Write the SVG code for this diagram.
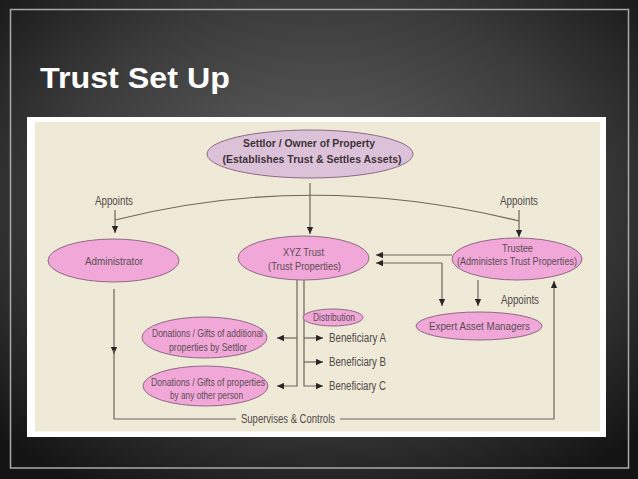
<svg xmlns="http://www.w3.org/2000/svg" width="638" height="479" viewBox="0 0 638 479">
<defs>
<radialGradient id="bg" cx="50%" cy="42%" r="70%">
<stop offset="0" stop-color="#656565"/>
<stop offset="0.6" stop-color="#3b3b3b"/>
<stop offset="1" stop-color="#141414"/>
</radialGradient>
<marker id="ah" viewBox="0 0 10 10" refX="10" refY="5" markerWidth="8" markerHeight="7" markerUnits="userSpaceOnUse" orient="auto">
<path d="M0,0.5 L10,5 L0,9.5 z" fill="#2b2623"/>
</marker>
<style>
.ln{fill:none;stroke:#6e655c;stroke-width:1.2}
.ar{marker-end:url(#ah)}
.pk{fill:#f1a7d7;stroke:#8e6a85;stroke-width:1}
.mv{fill:#dcc2d9;stroke:#8e6a85;stroke-width:1}
.nt{font-family:"Liberation Sans Narrow","Liberation Sans",Arial,sans-serif;font-size:11.5px;fill:#5a4d55;text-anchor:middle}
.bt{font-family:"Liberation Sans Narrow","Liberation Sans",Arial,sans-serif;font-size:11.5px;font-weight:bold;fill:#3e3238;text-anchor:middle}
.lb{font-family:"Liberation Sans Narrow","Liberation Sans",Arial,sans-serif;font-size:12px;fill:#4f4a47}
.bn{font-size:12.5px}
</style>
</defs>
<rect x="0" y="0" width="638" height="479" fill="url(#bg)"/>
<rect x="10.5" y="9.5" width="618" height="458.5" fill="none" stroke="#a9a9a9" stroke-width="1.5"/>
<text x="40" y="88" font-family="Liberation Sans, Arial, sans-serif" font-size="30" font-weight="bold" fill="#ffffff" textLength="190" lengthAdjust="spacingAndGlyphs">Trust Set Up</text>
<rect x="27" y="117" width="579" height="320" fill="#ffffff"/>
<rect x="35" y="122" width="565" height="309.5" fill="#efe9d8"/>

<g id="connectors">
<path class="ln" d="M115,220 Q312,170 519,221"/>
<path class="ln ar" d="M115,210 V233"/>
<path class="ln ar" d="M519,210 V237"/>
<path class="ln ar" d="M310,183 V234"/>
<path class="ln ar" d="M452,255 H376"/>
<path class="ln ar" d="M442,263 H376"/>
<path class="ln ar" d="M442,263 V306"/>
<path class="ln ar" d="M478,280 V306"/>
<path class="ln ar" d="M114,289 V354"/>
<path class="ln" d="M114,350 V419 H236"/>
<path class="ln ar" d="M340,419 H554 V281"/>
<path class="ln ar" d="M297,279 V386 H277"/>
<path class="ln ar" d="M297,338 H277"/>
<path class="ln ar" d="M304,279 V386 H323"/>
<path class="ln ar" d="M304,338 H323"/>
<path class="ln ar" d="M304,362 H323"/>
</g>

<g id="settlor">
<ellipse class="mv" cx="310" cy="154" rx="103" ry="24"/>
<text class="bt" x="309" y="147" textLength="132" lengthAdjust="spacingAndGlyphs">Settlor / Owner of Property</text>
<text class="bt" x="312" y="163" textLength="179" lengthAdjust="spacingAndGlyphs">(Establishes Trust &amp; Settles Assets)</text>
</g>

<g id="appoints-left"><text class="lb" x="95" y="205" textLength="38" lengthAdjust="spacingAndGlyphs">Appoints</text></g>
<g id="appoints-right"><text class="lb" x="500" y="205" textLength="38" lengthAdjust="spacingAndGlyphs">Appoints</text></g>

<g id="administrator">
<ellipse class="pk" cx="113.5" cy="260.5" rx="65.5" ry="21.5"/>
<text class="nt" x="114" y="264.5" textLength="58" lengthAdjust="spacingAndGlyphs">Administrator</text>
</g>

<g id="xyz-trust">
<ellipse class="pk" cx="303.5" cy="258" rx="65.5" ry="22"/>
<text class="nt" x="303.5" y="256" textLength="41" lengthAdjust="spacingAndGlyphs">XYZ Trust</text>
<text class="nt" x="304.5" y="270" textLength="73" lengthAdjust="spacingAndGlyphs">(Trust Properties)</text>
</g>

<g id="trustee">
<ellipse class="pk" cx="517" cy="259" rx="65" ry="21"/>
<text class="nt" x="517.5" y="252" textLength="31" lengthAdjust="spacingAndGlyphs">Trustee</text>
<text class="nt" x="517" y="265" textLength="120" lengthAdjust="spacingAndGlyphs">(Administers Trust Properties)</text>
</g>

<g id="appoints-managers"><text class="lb" x="501" y="304" textLength="38" lengthAdjust="spacingAndGlyphs">Appoints</text></g>

<g id="expert-asset-managers">
<ellipse class="pk" cx="479" cy="326" rx="63" ry="14"/>
<text class="nt" x="479.5" y="330" textLength="101" lengthAdjust="spacingAndGlyphs">Expert Asset Managers</text>
</g>

<g id="distribution">
<ellipse class="pk" cx="333" cy="317.5" rx="30" ry="8.5"/>
<text class="nt" x="334" y="321" font-size="10" textLength="42" lengthAdjust="spacingAndGlyphs">Distribution</text>
</g>

<g id="beneficiary-a"><text class="lb bn" x="329" y="341.5" textLength="57" lengthAdjust="spacingAndGlyphs">Beneficiary A</text></g>
<g id="beneficiary-b"><text class="lb bn" x="329" y="366" textLength="57" lengthAdjust="spacingAndGlyphs">Beneficiary B</text></g>
<g id="beneficiary-c"><text class="lb bn" x="329" y="389.5" textLength="57" lengthAdjust="spacingAndGlyphs">Beneficiary C</text></g>

<g id="donations-settlor">
<ellipse class="pk" cx="204.5" cy="337.5" rx="62.5" ry="20.5"/>
<text class="nt" x="207.5" y="337" textLength="111" lengthAdjust="spacingAndGlyphs">Donations / Gifts of additional</text>
<text class="nt" x="208" y="351" textLength="78" lengthAdjust="spacingAndGlyphs">properties by Settlor</text>
</g>

<g id="donations-other">
<ellipse class="pk" cx="205.5" cy="386" rx="62.5" ry="20"/>
<text class="nt" x="208" y="386" textLength="114" lengthAdjust="spacingAndGlyphs">Donations / Gifts of properties</text>
<text class="nt" x="206.5" y="399" textLength="73" lengthAdjust="spacingAndGlyphs">by any other person</text>
</g>

<g id="supervises"><text class="lb" x="241" y="422.5" textLength="94" lengthAdjust="spacingAndGlyphs">Supervises &amp; Controls</text></g>
</svg>
